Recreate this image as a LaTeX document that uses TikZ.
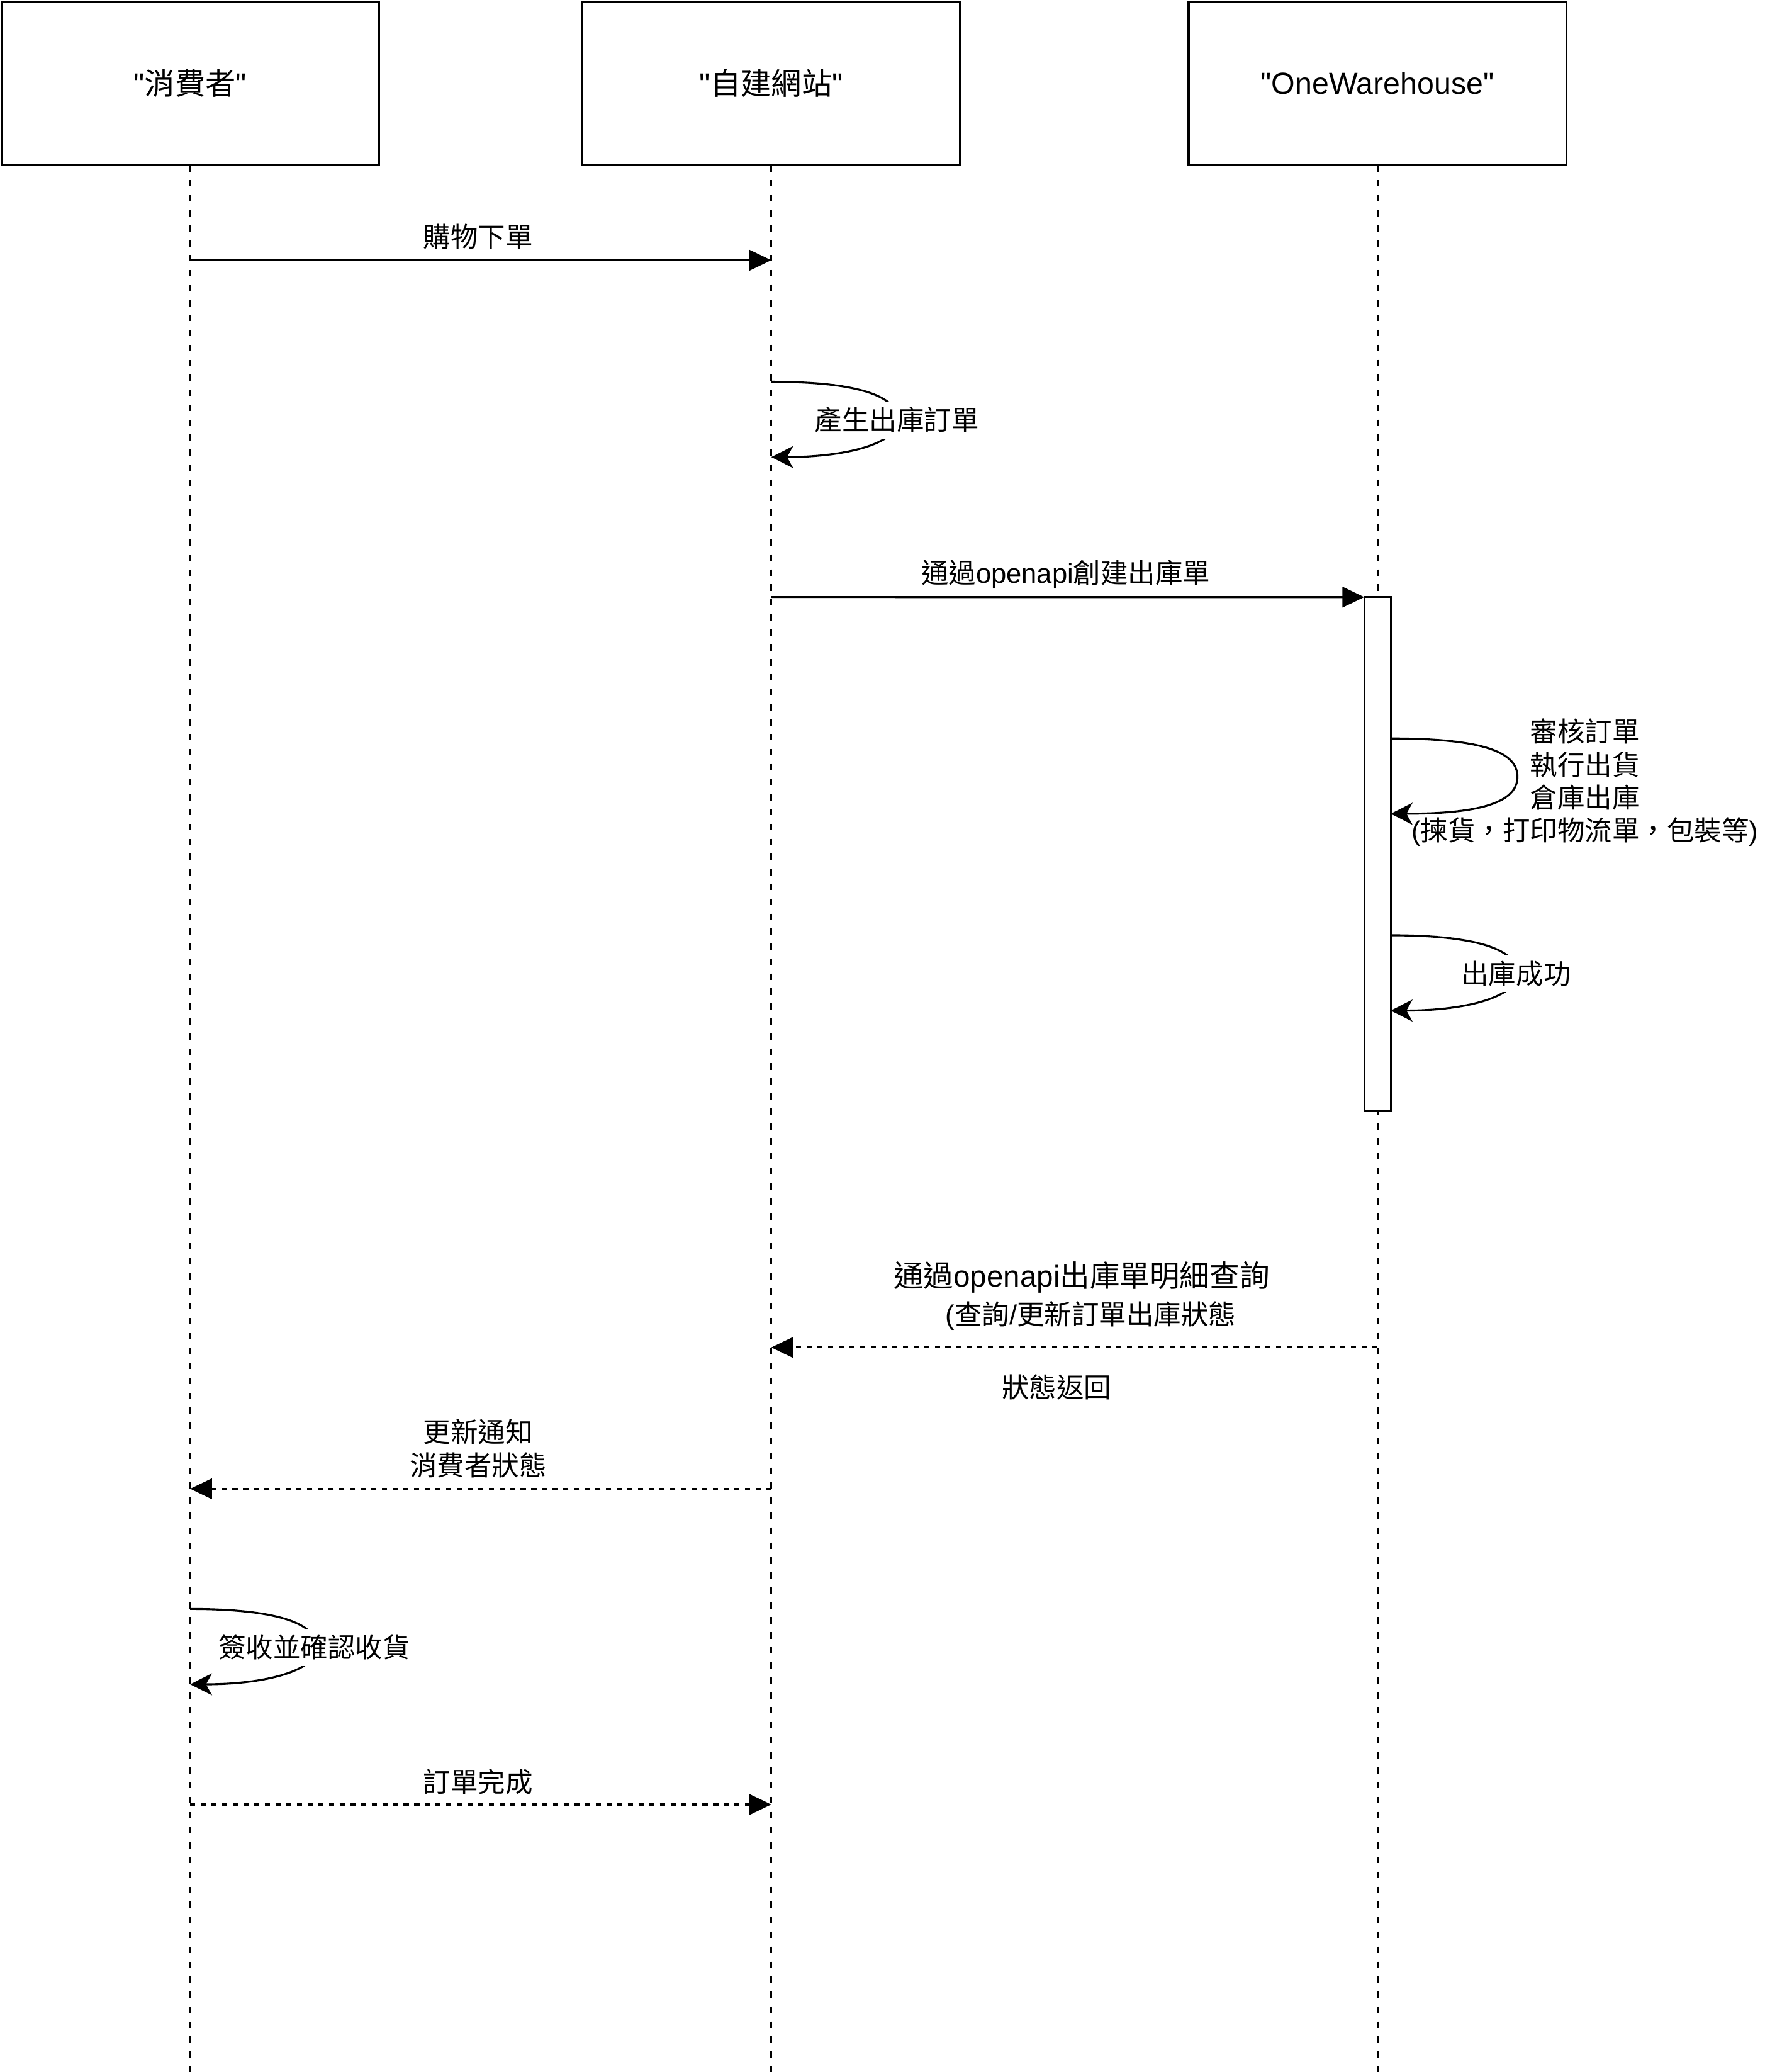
\documentclass[tikz,border=0pt]{standalone}
\usepackage{fontspec}
\setmainfont{Liberation Sans}[Ligatures=TeXOff]
\newfontfamily\cjkfont{Noto Sans CJK TC}
\newcommand\zht[1]{{\cjkfont #1}}
\usetikzlibrary{arrows.meta}
\begin{document}
\begin{tikzpicture}[x=0.02cm,y=-0.02cm,
  every node/.style={inner sep=0pt, outer sep=0pt},
  lw/.style={line width=0.85pt},
  actor/.style={draw, lw, fill=white, minimum width=5.72cm, minimum height=2.48cm, font=\fontsize{13.1}{15.7}\selectfont},
  lifeline/.style={lw, dash pattern=on 2.8pt off 3.65pt},
  msg/.style={lw, -{Triangle[length=9.4pt,width=8.8pt]}},
  reply/.style={lw, dash pattern=on 2.2pt off 2.4pt, -{Triangle[length=9.4pt,width=8.8pt]}},
  selfmsg/.style={lw, -{Stealth[length=9.4pt,width=9.4pt,inset=2.6pt]}},
  lbl/.style={font=\fontsize{11.8}{14.2}\selectfont, align=center},
  biglbl/.style={font=\fontsize{12.9}{15.5}\selectfont, align=center},
  looplbl/.style={lbl, fill=white, inner xsep=1pt, inner ysep=2.5pt},
  act/.style={draw, lw, fill=white, minimum width=0.4cm, minimum height=7.78cm},
]
\useasboundingbox (0,0) rectangle (1336,1568.5);

% participants
\node[actor] (A) at (144,63) {"\zht{消費者}"};
\node[actor] (B) at (584,63) {"\zht{自建網站}"};
\node[actor] (C) at (1043,63) {"OneWarehouse"};

% lifelines
\coordinate (Aend) at (144,1568.5);
\coordinate (Bend) at (584,1568.5);
\coordinate (Cend) at (1043,1568.5);
\draw[lifeline] (A.south) -- (Aend);
\draw[lifeline] (B.south) -- (Bend);
\draw[lifeline] (C.south) -- (Cend);

% activation
\node[act] (Act) at (1043,646.5) {};

% message 1
\coordinate (m1s) at (144,197);
\coordinate (m1e) at (584,197);
\draw[msg] (m1s) -- (m1e);
\node[lbl] (l1) at (362,179) {\zht{購物下單}};

% self message 1
\coordinate (s1a) at (584,289);
\coordinate (s1b) at (584,346);
\draw[selfmsg] (s1a) .. controls (650,289) and (680,300) .. (680,318)
                     .. controls (680,336) and (640,346) .. (s1b);
\node[looplbl] (l2) at (679,318) {\zht{產生出庫訂單}};

% message 2
\coordinate (m2s) at (584,452);
\draw[msg] (m2s) -- (Act.north west);
\node[lbl] (l3) at (807,435) {\zht{通過}openapi\zht{創建出庫單}};

% self message 2
\coordinate (s2a) at (1053,559);
\coordinate (s2b) at (1053,616);
\draw[selfmsg] (s2a) .. controls (1125,559) and (1149,570) .. (1149,588)
                     .. controls (1149,606) and (1125,616) .. (s2b);
\node[lbl] (l4) at (1200,592.5) {\zht{審核訂單}\\\zht{執行出貨}\\\zht{倉庫出庫}\\(\zht{揀貨，打印物流單，包裝等})};

% self message 3
\coordinate (s3a) at (1053,708);
\coordinate (s3b) at (1053,765);
\draw[selfmsg] (s3a) .. controls (1119,708) and (1149,719) .. (1149,737)
                     .. controls (1149,755) and (1109,765) .. (s3b);
\node[looplbl] (l5) at (1148,737) {\zht{出庫成功}};

% reply 1
\coordinate (r1s) at (1043,1020);
\coordinate (r1e) at (584,1020);
\draw[reply] (r1s) -- (r1e);
\node[biglbl] (l6a) at (819,967) {\zht{通過}openapi\zht{出庫單明細查詢}};
\node[lbl] (l6b) at (826,996) {(\zht{查詢}/\zht{更新訂單出庫狀態}};
\node[lbl] (l6c) at (800,1050) {\zht{狀態返回}};

% reply 2
\coordinate (r2s) at (584,1127);
\coordinate (r2e) at (144,1127);
\draw[reply] (r2s) -- (r2e);
\node[lbl] (l7) at (362,1096.5) {\zht{更新通知}\\\zht{消費者狀態}};

% self message 4
\coordinate (s4a) at (144,1218);
\coordinate (s4b) at (144,1275);
\draw[selfmsg] (s4a) .. controls (210,1218) and (240,1229) .. (240,1247)
                     .. controls (240,1265) and (200,1275) .. (s4b);
\node[looplbl] (l8) at (238,1247) {\zht{簽收並確認收貨}};

% reply 3
\coordinate (r3s) at (144,1366);
\coordinate (r3e) at (584,1366);
\draw[reply] (r3s) -- (r3e);
\node[lbl] (l9) at (362,1349) {\zht{訂單完成}};

\end{tikzpicture}
\end{document}
